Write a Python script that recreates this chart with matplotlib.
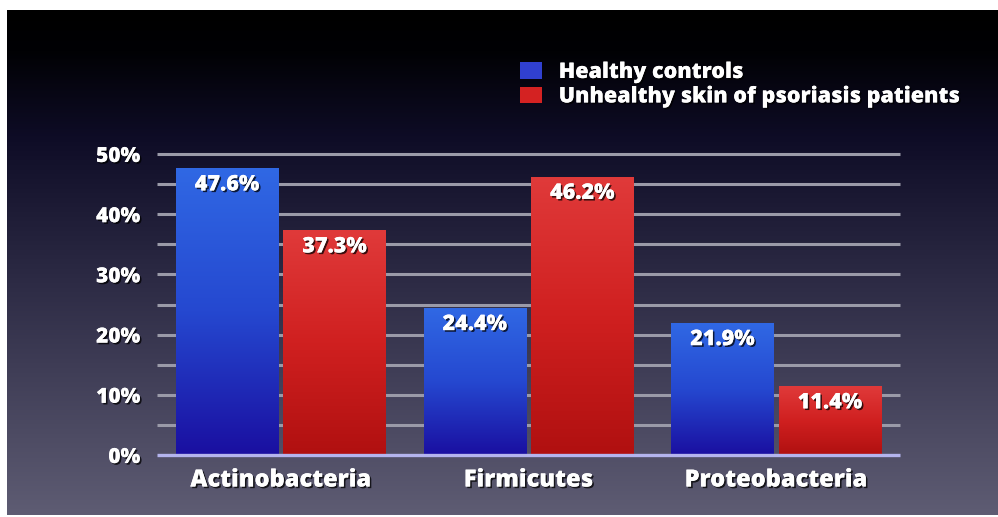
import numpy as np
import matplotlib
matplotlib.use("Agg")
import matplotlib.pyplot as plt
from matplotlib.patches import Patch
from matplotlib.colors import LinearSegmentedColormap
import matplotlib.patheffects as pe

# ---- data ----
categories = ["Actinobacteria", "Firmicutes", "Proteobacteria"]
healthy = [47.6, 24.4, 21.9]
psoriasis = [37.3, 46.2, 11.4]
series_labels = ["Healthy controls", "Unhealthy skin of psoriasis patients"]
y_ticks = [0, 10, 20, 30, 40, 50]
y_tick_labels = ["0%", "10%", "20%", "30%", "40%", "50%"]
grid_levels = [5, 10, 15, 20, 25, 30, 35, 40, 45, 50]

FW = 800
plt.rcParams["font.family"] = ["Open Sans", "DejaVu Sans"]
plt.rcParams["font.weight"] = FW

W, H = 998, 517
fig = plt.figure(figsize=(W / 100, H / 100), dpi=100, facecolor="white")

# dark slide background with vertical gradient
bg = fig.add_axes([7 / W, 2 / H, 991 / W, 505 / H], zorder=-10)
bg_cmap = LinearSegmentedColormap.from_list(
    "slide", [(0.0, "#000000"), (0.08, "#010104"), (0.25, "#0e0c26"),
              (0.55, "#2e2c46"), (1.0, "#5e5c73")])
grad = np.linspace(0, 1, 256).reshape(-1, 1)
bg.imshow(grad, aspect="auto", cmap=bg_cmap, extent=[0, 1, 1, 0])
bg.set_axis_off()

# main plotting area
ax = fig.add_axes([157 / W, (H - 455) / H, 743 / W, 301 / H])
ax.set_facecolor("none")
ax.set_xlim(-0.5, 2.5)
ax.set_ylim(0, 50)
for s in ax.spines.values():
    s.set_visible(False)

# horizontal guide lines
ax.hlines(grid_levels, -0.5, 2.5, colors="#9a9aa8", linewidth=2.2,
          zorder=1, clip_on=False)
ax.hlines([0], -0.5, 2.5, colors="#b4b4ee", linewidth=2.4, zorder=5,
          clip_on=False)

x = np.arange(len(categories))
bw = 0.413
off = 0.217

blue_cmap = LinearSegmentedColormap.from_list("b", ["#1a0fa0", "#2548d0", "#3068e4"])
red_cmap = LinearSegmentedColormap.from_list("r", ["#b01010", "#d02020", "#e03a3a"])

shadow = [pe.withSimplePatchShadow(offset=(1.2, -1.2), shadow_rgbFace="black",
                                   alpha=0.75), pe.Normal()]


def gradient_bars(xpos, values, cmap):
    bars = ax.bar(xpos, values, bw, color="none", edgecolor="none", zorder=3)
    g = np.linspace(0, 1, 256).reshape(-1, 1)
    for b in bars:
        x0, y0 = b.get_x(), b.get_y()
        img = ax.imshow(g, aspect="auto", cmap=cmap, origin="lower",
                        extent=[x0, x0 + b.get_width(), y0, y0 + b.get_height()],
                        zorder=3)
        img.set_clip_path(b)
    return bars


b1 = gradient_bars(x - off, healthy, blue_cmap)
b2 = gradient_bars(x + off, psoriasis, red_cmap)
ax.set_xlim(-0.5, 2.5)
ax.set_ylim(0, 50)

for xs, vals in ((x - off, healthy), (x + off, psoriasis)):
    for xi, v in zip(xs, vals):
        ax.annotate(f"{v:.1f}%", (xi, v), xytext=(0, -16),
                    textcoords="offset pixels", ha="center", va="center",
                    color="white", fontsize=15.5, fontweight=FW,
                    zorder=6, path_effects=shadow)

ax.set_yticks(y_ticks)
ax.set_yticklabels(y_tick_labels)
ax.set_xticks(x)
ax.set_xticklabels(categories)
ax.tick_params(axis="y", length=0, pad=12, labelsize=15, labelcolor="white")
ax.tick_params(axis="x", length=0, pad=9, labelsize=17, labelcolor="white")
for lab in ax.get_yticklabels() + ax.get_xticklabels():
    lab.set_fontweight(FW)
    lab.set_path_effects(shadow)

handles = [Patch(facecolor="#3040d0", edgecolor="none"),
           Patch(facecolor="#d42222", edgecolor="none")]
leg = fig.legend(handles, series_labels, loc="upper left",
                 bbox_to_anchor=(520 / W, (H - 60) / H), frameon=False,
                 fontsize=15.5, handlelength=1.0, handleheight=0.8,
                 handletextpad=0.8, labelspacing=0.02, borderpad=0,
                 borderaxespad=0)
for t in leg.get_texts():
    t.set_color("white")
    t.set_fontweight(FW)
    t.set_path_effects(shadow)

fig.savefig("out.png", dpi=100, facecolor="white")
